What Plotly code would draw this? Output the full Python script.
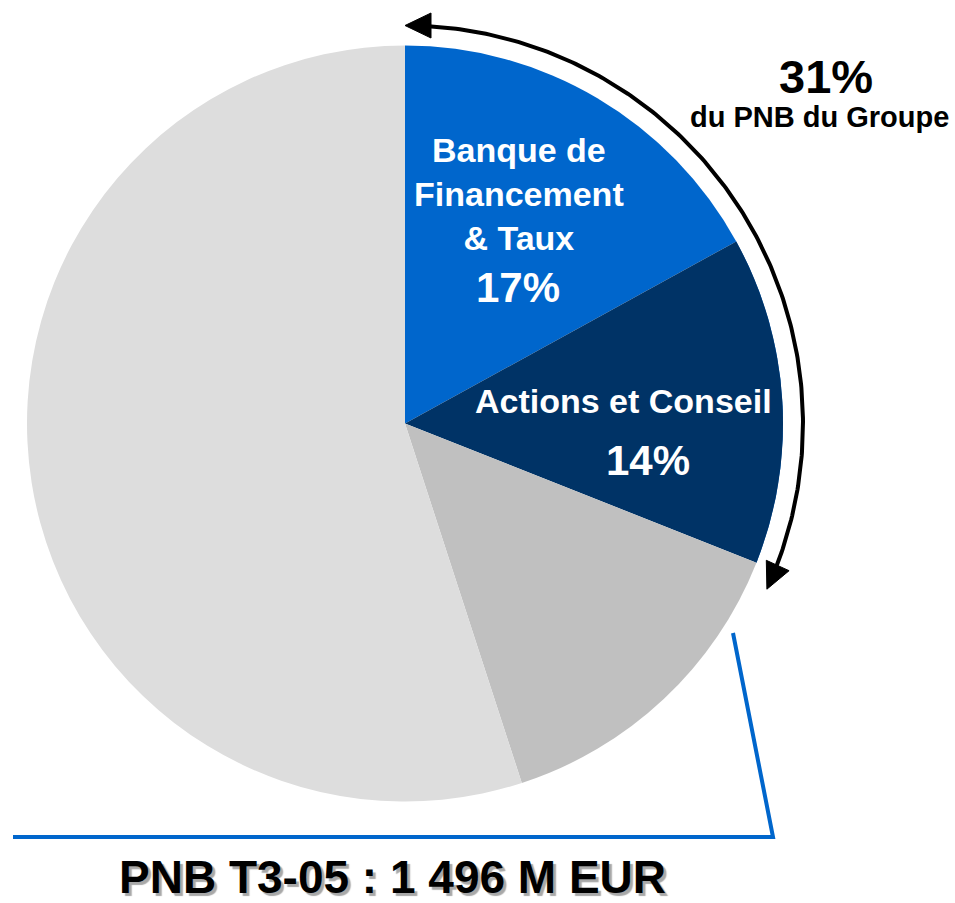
import numpy as np
import plotly.graph_objects as go

# ---- data ----
segments = ["Banque de<br>Financement<br>& Taux", "Actions et Conseil", "Autres métiers A", "Autres métiers B"]
shares = [17, 14, 14, 55]
colors = ["#0066CC", "#003366", "#C0C0C0", "#DDDDDD"]
group_caption = "du PNB du Groupe"
total_caption = "PNB T3-05 : 1 496 M EUR"

W, H = 955, 903
CX, CY, R = 405, 423.5, 378

fig = go.Figure()

fig.add_trace(go.Pie(
    labels=segments, values=shares, sort=False, direction="clockwise", rotation=0,
    marker=dict(colors=colors, line=dict(width=0)),
    textinfo="none", hoverinfo="label+percent", showlegend=False,
    domain=dict(x=[(CX - R) / W, (CX + R) / W], y=[1 - (CY + R) / H, 1 - (CY - R) / H]),
))

total = sum(shares)
cum = np.cumsum(shares) / total * 360.0
ib_share = shares[0] + shares[1]

def pt(theta_deg, rad):
    t = np.radians(theta_deg)
    return CX + rad * np.sin(t), CY - rad * np.cos(t)

# thin blue edge on the outer rim of the second slice
th = np.linspace(cum[0], cum[1], 80)
xs, ys = pt(th, R - 1)
fig.add_trace(go.Scatter(x=xs, y=ys, mode="lines", line=dict(color="#0066CC", width=2),
                         hoverinfo="skip", showlegend=False, xaxis="x", yaxis="y"))

# curved double arrow spanning the two investment-banking slices
RA = 398
L_head, W_head = 26, 12.5
theta_end = ib_share / total * 360.0 + 3
dth = np.degrees(L_head / RA)
th = np.linspace(dth * 0.8, theta_end - dth * 0.8, 200)
xs, ys = pt(th, RA)
fig.add_trace(go.Scatter(x=xs, y=ys, mode="lines", line=dict(color="black", width=4),
                         hoverinfo="skip", showlegend=False, xaxis="x", yaxis="y"))

def head(theta_deg, direction):
    tx, ty = pt(theta_deg, RA)
    t = np.radians(theta_deg)
    vx, vy = np.cos(t) * direction, np.sin(t) * direction  # travel direction
    nx, ny = -vy, vx
    bx, by = tx - L_head * vx, ty - L_head * vy
    return (f"M {tx:.1f},{ty:.1f} L {bx + W_head*nx:.1f},{by + W_head*ny:.1f} "
            f"L {bx - W_head*nx:.1f},{by - W_head*ny:.1f} Z")

shapes = []
for p in (head(0, -1), head(theta_end, 1)):
    shapes.append(dict(type="path", path=p, xref="x", yref="y",
                       fillcolor="black", line=dict(color="black", width=1)))

# blue bracket
shapes.append(dict(type="path", path="M 13,837 L 773,837 L 733,633", xref="x", yref="y",
                   line=dict(color="#0066CC", width=4)))

font_fam = "Arial, Liberation Sans, sans-serif"
ann = []
def add(text, x, y, size, color="white", shadow=None):
    f = dict(family=font_fam, size=size, color=color, weight="bold")
    if shadow:
        f["shadow"] = shadow
    ann.append(dict(text=text, x=x, y=y, xref="x", yref="y", showarrow=False,
                    xanchor="center", yanchor="middle", borderpad=0, font=f))

add(segments[0], 519, 194, 34)
add(f"{shares[0]}%", 518, 287, 42)
add(segments[1], 623, 401, 34)
add(f"{shares[1]}%", 648, 460, 42)
add(f"{ib_share}%", 826, 76, 47, color="black")
add(group_caption, 819, 117, 29, color="black")
add(total_caption, 392, 877, 46, color="black", shadow="3px 3px 1px #A8A8A8")

fig.update_layout(
    width=W, height=H, margin=dict(l=0, r=0, t=0, b=0),
    paper_bgcolor="white", plot_bgcolor="rgba(0,0,0,0)",
    xaxis=dict(range=[0, W], visible=False, fixedrange=True, domain=[0, 1]),
    yaxis=dict(range=[H, 0], visible=False, fixedrange=True, domain=[0, 1]),
    shapes=shapes, annotations=ann, showlegend=False,
)

fig.write_html("out.html", config={"displayModeBar": False},
               post_script="document.body.style.margin='0px';")
